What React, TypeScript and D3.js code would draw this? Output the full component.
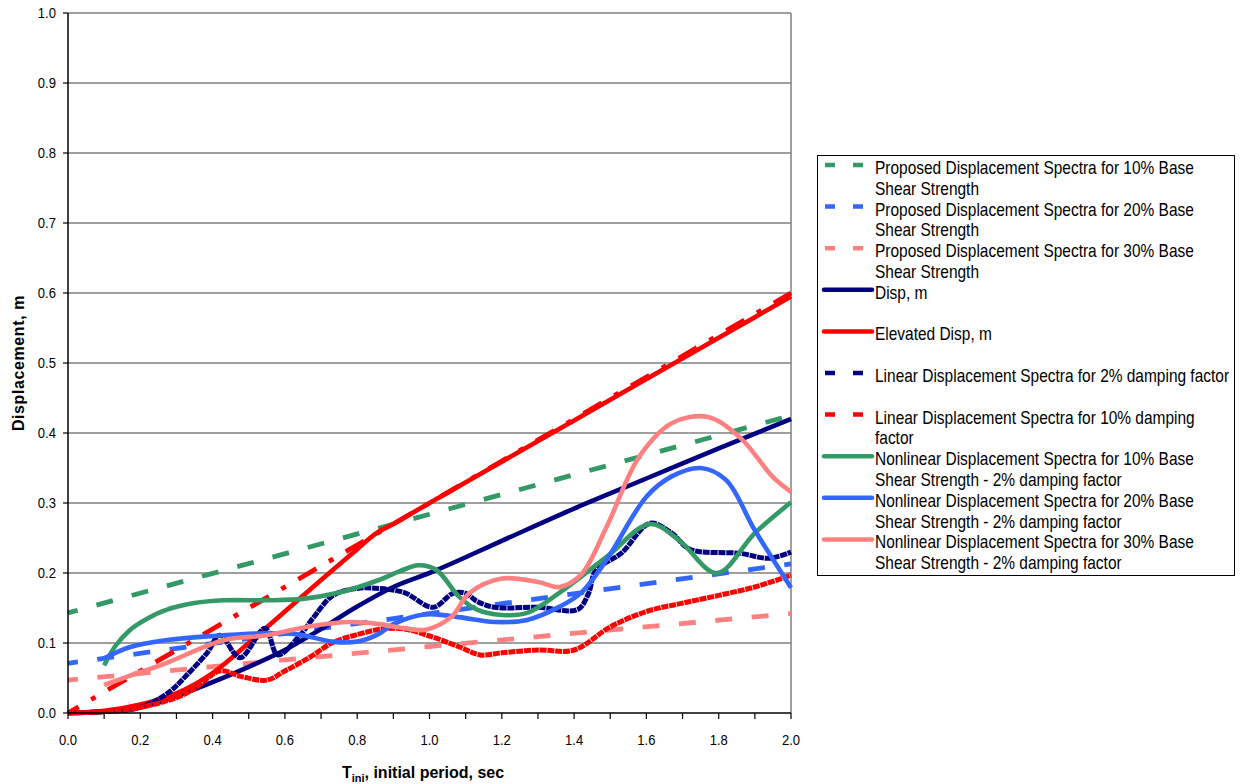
import React from "react";
import * as d3 from "d3";

type Pt = [number, number];

// T (sec), displacement (m)
const proposed10: Pt[] = [[0, 0.143], [1.0, 0.284], [2.0, 0.425]];
const proposed20: Pt[] = [[0, 0.071], [1.0, 0.142], [2.0, 0.213]];
const proposed30: Pt[] = [[0, 0.047], [1.0, 0.095], [2.0, 0.142]];

const disp: Pt[] = [
  [0, 0], [0.1, 0.002], [0.2, 0.008], [0.3, 0.024], [0.4, 0.044], [0.5, 0.066],
  [0.6, 0.09], [0.7, 0.12], [0.8, 0.152], [0.9, 0.18], [1.0, 0.2], [1.2, 0.246],
  [1.4, 0.292], [1.6, 0.335], [1.8, 0.378], [2.0, 0.42],
];

const elevatedDisp: Pt[] = [
  [0, 0], [0.1, 0.003], [0.2, 0.012], [0.3, 0.028], [0.4, 0.057], [0.5, 0.1],
  [0.6, 0.145], [0.7, 0.19], [0.8, 0.234], [0.85, 0.256], [0.9, 0.27], [1.0, 0.3],
  [1.2, 0.359], [1.4, 0.418], [1.6, 0.477], [1.8, 0.536], [2.0, 0.595],
];

const elevatedLinear: Pt[] = [
  [0, 0], [0.2, 0.06], [0.4, 0.12], [0.6, 0.18], [0.85, 0.255], [1.2, 0.36],
  [1.6, 0.48], [2.0, 0.6],
];

const linear2: Pt[] = [
  [0, 0], [0.1, 0.002], [0.2, 0.008], [0.28, 0.03], [0.33, 0.055], [0.385, 0.086],
  [0.42, 0.111], [0.476, 0.079], [0.545, 0.121], [0.58, 0.083], [0.64, 0.11],
  [0.68, 0.137], [0.733, 0.168], [0.8, 0.178], [0.86, 0.178], [0.93, 0.172],
  [1.01, 0.151], [1.065, 0.171], [1.1, 0.171], [1.13, 0.16], [1.18, 0.151],
  [1.3, 0.151], [1.41, 0.148], [1.44, 0.171], [1.46, 0.204], [1.53, 0.228],
  [1.61, 0.271], [1.67, 0.257], [1.72, 0.234], [1.86, 0.228], [1.94, 0.221],
  [2.0, 0.23],
];

const linear10: Pt[] = [
  [0, 0], [0.1, 0.002], [0.2, 0.008], [0.3, 0.022], [0.35, 0.035], [0.42, 0.06],
  [0.48, 0.052], [0.55, 0.047], [0.6, 0.06], [0.67, 0.08], [0.73, 0.1], [0.8, 0.112],
  [0.87, 0.12], [0.93, 0.12], [1.0, 0.11], [1.08, 0.095], [1.14, 0.083], [1.2, 0.086],
  [1.3, 0.09], [1.4, 0.09], [1.5, 0.123], [1.6, 0.145], [1.7, 0.157], [1.8, 0.168],
  [1.9, 0.18], [2.0, 0.197],
];

const nonlinear10: Pt[] = [
  [0.1, 0.068], [0.13, 0.095], [0.17, 0.118], [0.22, 0.135], [0.27, 0.147],
  [0.35, 0.157], [0.43, 0.161], [0.55, 0.161], [0.65, 0.163], [0.75, 0.172],
  [0.86, 0.19], [0.92, 0.203], [0.97, 0.211], [1.02, 0.204], [1.08, 0.167],
  [1.13, 0.148], [1.2, 0.14], [1.27, 0.143], [1.36, 0.172], [1.49, 0.223],
  [1.61, 0.27], [1.69, 0.247], [1.795, 0.2], [1.9, 0.257], [2.0, 0.301],
];

const nonlinear20: Pt[] = [
  [0.1, 0.078], [0.17, 0.094], [0.27, 0.104], [0.4, 0.11], [0.55, 0.114],
  [0.64, 0.112], [0.73, 0.102], [0.8, 0.102], [0.86, 0.113], [0.9, 0.127],
  [0.99, 0.141], [1.08, 0.137], [1.18, 0.13], [1.27, 0.133], [1.36, 0.152],
  [1.42, 0.172], [1.49, 0.219], [1.6, 0.309], [1.67, 0.338], [1.75, 0.35],
  [1.82, 0.333], [1.9, 0.261], [2.0, 0.179],
];

const nonlinear30: Pt[] = [
  [0.1, 0.04], [0.17, 0.053], [0.27, 0.071], [0.43, 0.104], [0.55, 0.111],
  [0.67, 0.124], [0.78, 0.13], [0.86, 0.127], [0.93, 0.121], [0.99, 0.119],
  [1.06, 0.137], [1.11, 0.171], [1.2, 0.192], [1.3, 0.187], [1.36, 0.18],
  [1.42, 0.198], [1.49, 0.266], [1.58, 0.366], [1.67, 0.414], [1.77, 0.423],
  [1.86, 0.393], [1.95, 0.337], [2.0, 0.316],
];

const xTicks = d3.range(0, 2.001, 0.1);
const xLabels = ["0.0", "0.2", "0.4", "0.6", "0.8", "1.0", "1.2", "1.4", "1.6", "1.8", "2.0"];
const yLabels = ["0.0", "0.1", "0.2", "0.3", "0.4", "0.5", "0.6", "0.7", "0.8", "0.9", "1.0"];

const GREEN = "#339966";
const BLUE = "#3366ff";
const PINK = "#ff8080";
const NAVY = "#000080";
const RED = "#ff0000";

const legendItems = [
  { color: GREEN, dashed: true, lines: ["Proposed Displacement Spectra for 10% Base", "Shear Strength"] },
  { color: BLUE, dashed: true, lines: ["Proposed Displacement Spectra for 20% Base", "Shear Strength"] },
  { color: PINK, dashed: true, lines: ["Proposed Displacement Spectra for 30% Base", "Shear Strength"] },
  { color: NAVY, dashed: false, lines: ["Disp, m"] },
  { color: RED, dashed: false, lines: ["Elevated Disp, m"] },
  { color: NAVY, dashed: true, lines: ["Linear Displacement Spectra for 2% damping factor"] },
  { color: RED, dashed: true, lines: ["Linear Displacement Spectra for 10% damping", "factor"] },
  { color: GREEN, dashed: false, lines: ["Nonlinear Displacement Spectra for 10% Base", "Shear Strength - 2% damping factor"] },
  { color: BLUE, dashed: false, lines: ["Nonlinear Displacement Spectra for 20% Base", "Shear Strength - 2% damping factor"] },
  { color: PINK, dashed: false, lines: ["Nonlinear Displacement Spectra for 30% Base", "Shear Strength - 2% damping factor"] },
];

const FONT = "'Liberation Sans', Arial, sans-serif";

export default function App() {
  const x = d3.scaleLinear().domain([0, 2]).range([68, 791]);
  const y = d3.scaleLinear().domain([0, 1]).range([713, 13]);

  const straight = d3.line<Pt>().x((d) => x(d[0])).y((d) => y(d[1]));
  const smooth = d3
    .line<Pt>()
    .x((d) => x(d[0]))
    .y((d) => y(d[1]))
    .curve(d3.curveCatmullRom.alpha(0.5));
  const mono = d3
    .line<Pt>()
    .x((d) => x(d[0]))
    .y((d) => y(d[1]))
    .curve(d3.curveMonotoneX);

  const dashedProps = { strokeWidth: 4.8, strokeDasharray: "17,19.5", strokeDashoffset: 7, fill: "none" };
  const texture = { strokeWidth: 5, strokeDasharray: "7,0.8", fill: "none" };
  const solid = { strokeWidth: 4.6, fill: "none", strokeLinejoin: "round" as const };

  return (
    <svg
      width={1241}
      height={784}
      style={{ position: "absolute", left: 0, top: 0, background: "#fff" }}
      fontFamily={FONT}
    >
      {/* grid */}
      {yLabels.slice(1).map((_, i) => (
        <line key={i} x1={68} x2={791} y1={y((i + 1) / 10)} y2={y((i + 1) / 10)} stroke="#7f7f7f" strokeWidth={1.5} />
      ))}
      <line x1={791} x2={791} y1={13} y2={713} stroke="#7f7f7f" strokeWidth={1.5} />

      {/* series */}
      <path d={straight(proposed10)!} stroke={GREEN} {...dashedProps} />
      <path d={straight(proposed20)!} stroke={BLUE} {...dashedProps} />
      <path d={straight(proposed30)!} stroke={PINK} {...dashedProps} />
      <path d={mono(disp)!} stroke={NAVY} {...solid} />
      <path d={mono(elevatedDisp)!} stroke={RED} {...solid} />
      <path
        d={straight(elevatedLinear)!}
        stroke={RED}
        strokeWidth={4.8}
        strokeDasharray="21,14.5,5,14.5"
        strokeDashoffset={8.7}
        fill="none"
      />
      <path d={smooth(linear2)!} stroke={NAVY} {...texture} />
      <path d={smooth(linear10)!} stroke={RED} {...texture} />
      <path d={smooth(nonlinear10)!} stroke={GREEN} {...solid} />
      <path d={smooth(nonlinear20)!} stroke={BLUE} {...solid} />
      <path d={smooth(nonlinear30)!} stroke={PINK} {...solid} />

      {/* axes */}
      <line x1={68} x2={68} y1={13} y2={713} stroke="#000" strokeWidth={1.5} />
      <line x1={68} x2={791} y1={713} y2={713} stroke="#000" strokeWidth={1.5} />
      {yLabels.map((lab, i) => (
        <g key={lab}>
          <line x1={63} x2={68} y1={y(i / 10)} y2={y(i / 10)} stroke="#000" strokeWidth={1.2} />
          <text transform={`translate(56,${y(i / 10) + 5}) scale(0.9,1)`} textAnchor="end" fontSize={14.5}>
            {lab}
          </text>
        </g>
      ))}
      {xTicks.map((t, i) => (
        <line key={i} x1={x(t)} x2={x(t)} y1={713} y2={719} stroke="#000" strokeWidth={1.2} />
      ))}
      {xLabels.map((lab, i) => (
        <text key={lab} transform={`translate(${x(i * 0.2)},${745}) scale(0.9,1)`} textAnchor="middle" fontSize={14.5}>
          {lab}
        </text>
      ))}

      {/* axis titles */}
      <text transform="translate(24,363) rotate(-90)" textAnchor="middle" fontSize={16} fontWeight="bold" letterSpacing={0.6}>
        Displacement, m
      </text>
      <text x={423} y={778} textAnchor="middle" fontSize={16} fontWeight="bold">
        T
        <tspan fontSize={11} dy={4}>ini</tspan>
        <tspan dy={-4}>, initial period, sec</tspan>
      </text>

      {/* legend */}
      <rect x={817.5} y={155.5} width={417} height={420} fill="#fff" stroke="#000" strokeWidth={1} />
      {legendItems.map((it, i) => {
        const sy = 165 + 41.6 * i;
        return (
          <g key={i}>
            {it.dashed ? (
              <line x1={825} x2={863} y1={sy} y2={sy} stroke={it.color} strokeWidth={4.5} strokeDasharray="10,18" />
            ) : (
              <line x1={824} x2={872} y1={sy} y2={sy} stroke={it.color} strokeWidth={4.5} strokeLinecap="round" />
            )}
            {it.lines.map((ln, j) => (
              <text key={j} transform={`translate(875,${sy + 9 + j * 20.7}) scale(0.86,1)`} fontSize={18}>
                {ln}
              </text>
            ))}
          </g>
        );
      })}
    </svg>
  );
}
